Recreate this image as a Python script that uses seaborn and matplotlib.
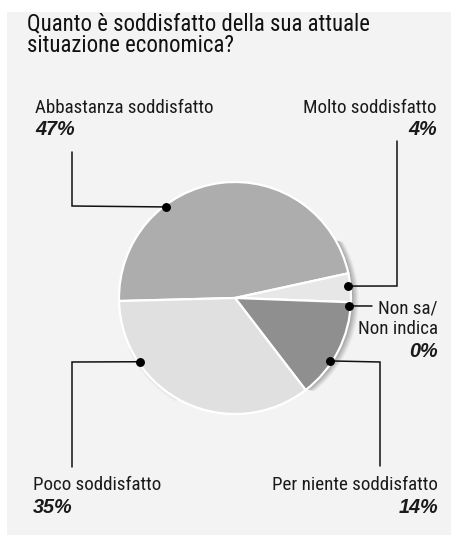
import numpy as np
import matplotlib
matplotlib.use("Agg")
import matplotlib.pyplot as plt
from matplotlib.patches import Wedge, Rectangle
from matplotlib import font_manager
import seaborn as sns

# --- data -------------------------------------------------------------
categories = ["Abbastanza soddisfatto", "Molto soddisfatto", "Non sa/\nNon indica",
              "Per niente soddisfatto", "Poco soddisfatto"]
values = [47, 4, 0, 14, 35]
pct_labels = ["47%", "4%", "0%", "14%", "35%"]
slice_colors = ["#adadad", "#e7e7e7", "#e7e7e7", "#8f8f8f", "#e0e0e0"]

title_lines = ["Quanto è soddisfatto della sua attuale", "situazione economica?"]

# --- fonts --------------------------------------------------------------
sns.set_theme(style="white")
fonts = font_manager.fontManager.ttflist
names = {f.name for f in fonts}
narrow_prefs = ["Liberation Sans Narrow", "Arial Narrow", "Roboto Condensed",
                "Archivo Narrow", "Barlow Semi Condensed", "Liberation Sans"]
narrow = next(n for n in narrow_prefs if n in names)
plt.rcParams["font.family"] = [narrow, "DejaVu Sans"]

W, H = 452, 541
fig = plt.figure(figsize=(W / 100, H / 100), dpi=100)
fig.patch.set_facecolor("white")
ax = fig.add_axes([0, 0, 1, 1])


def Y(y):
    """Convert a top-down pixel row to the axes' y coordinate."""
    return H - y


cx, cy, R = 235, Y(298), 116

wedges, _ = ax.pie(values, colors=slice_colors, startangle=181.5, counterclock=False,
                   center=(cx, cy), radius=R,
                   wedgeprops=dict(edgecolor="white", linewidth=1.6),
                   frame=True)
for w in wedges:
    w.set_zorder(2)
ax.set_xlim(0, W)
ax.set_ylim(0, H)
ax.set_aspect("equal")
ax.axis("off")

# grey panel
ax.add_patch(Rectangle((7, Y(535)), W - 7, 535 - 12, facecolor="#f3f3f3",
                       edgecolor="none", zorder=0))

# soft shadow to the right of the pie
for k, g in zip(range(8, 0, -1), np.linspace(0.93, 0.62, 8)):
    ax.add_patch(Wedge((cx + k, cy - 0.25 * k), R, -52, 30,
                       facecolor=(g, g, g), edgecolor="none", zorder=1))
for k, g in zip(range(4, 0, -1), np.linspace(0.95, 0.88, 4)):
    ax.add_patch(Wedge((cx - 0.3 * k, cy - k), R, 205, 240,
                       facecolor=(g, g, g), edgecolor="none", zorder=1))

# leader lines: dot angle on the rim, then a path in pixel coordinates
leaders = [
    dict(angle=127, path=[(72, 206), (72, 152)]),
    dict(angle=6, path=[(397, 286), (397, 141)]),
    dict(angle=-4, path=[(372, 306)]),
    dict(angle=-33.5, path=[(380, 362), (380, 466)]),
    dict(angle=214, path=[(72, 362), (72, 467)]),
]
for ld in leaders:
    a = np.deg2rad(ld["angle"])
    dx, dy = cx + 114 * np.cos(a), cy + 114 * np.sin(a)
    xs = [dx] + [p[0] for p in ld["path"]]
    ys = [dy] + [Y(p[1]) for p in ld["path"]]
    ax.plot(xs, ys, color="#111111", lw=1.1, zorder=3, solid_joinstyle="miter")
    ax.plot(dx, dy, "o", color="black", ms=5.4, zorder=4)

fs = 13.7
txt = dict(fontsize=fs, color="#1a1a1a", zorder=5)
pct = dict(fontsize=14.3, color="#1a1a1a", fontweight="bold", style="italic", zorder=5,
           family=["Liberation Sans", "DejaVu Sans"])

for line, yb in zip(title_lines, [30, 52]):
    ax.text(27, Y(yb), line, ha="left", va="baseline", fontsize=16.4, color="#111111")

# label positions (baseline of the name's last line, baseline of the percentage)
label_pos = [
    dict(x=35, yname=113, ypct=135, ha="left"),
    dict(x=437, yname=113, ypct=135, ha="right"),
    dict(x=438, yname=334, ypct=357, ha="right"),
    dict(x=438, yname=490, ypct=513, ha="right"),
    dict(x=33, yname=490, ypct=513, ha="left"),
]
for name, p, lp in zip(categories, pct_labels, label_pos):
    lines = name.split("\n")
    for i, line in enumerate(reversed(lines)):
        ax.text(lp["x"], Y(lp["yname"] - 20.5 * i), line, ha=lp["ha"], va="baseline", **txt)
    ax.text(lp["x"], Y(lp["ypct"]), p, ha=lp["ha"], va="baseline", **pct)

fig.savefig("out.png", dpi=100, facecolor=fig.get_facecolor())
